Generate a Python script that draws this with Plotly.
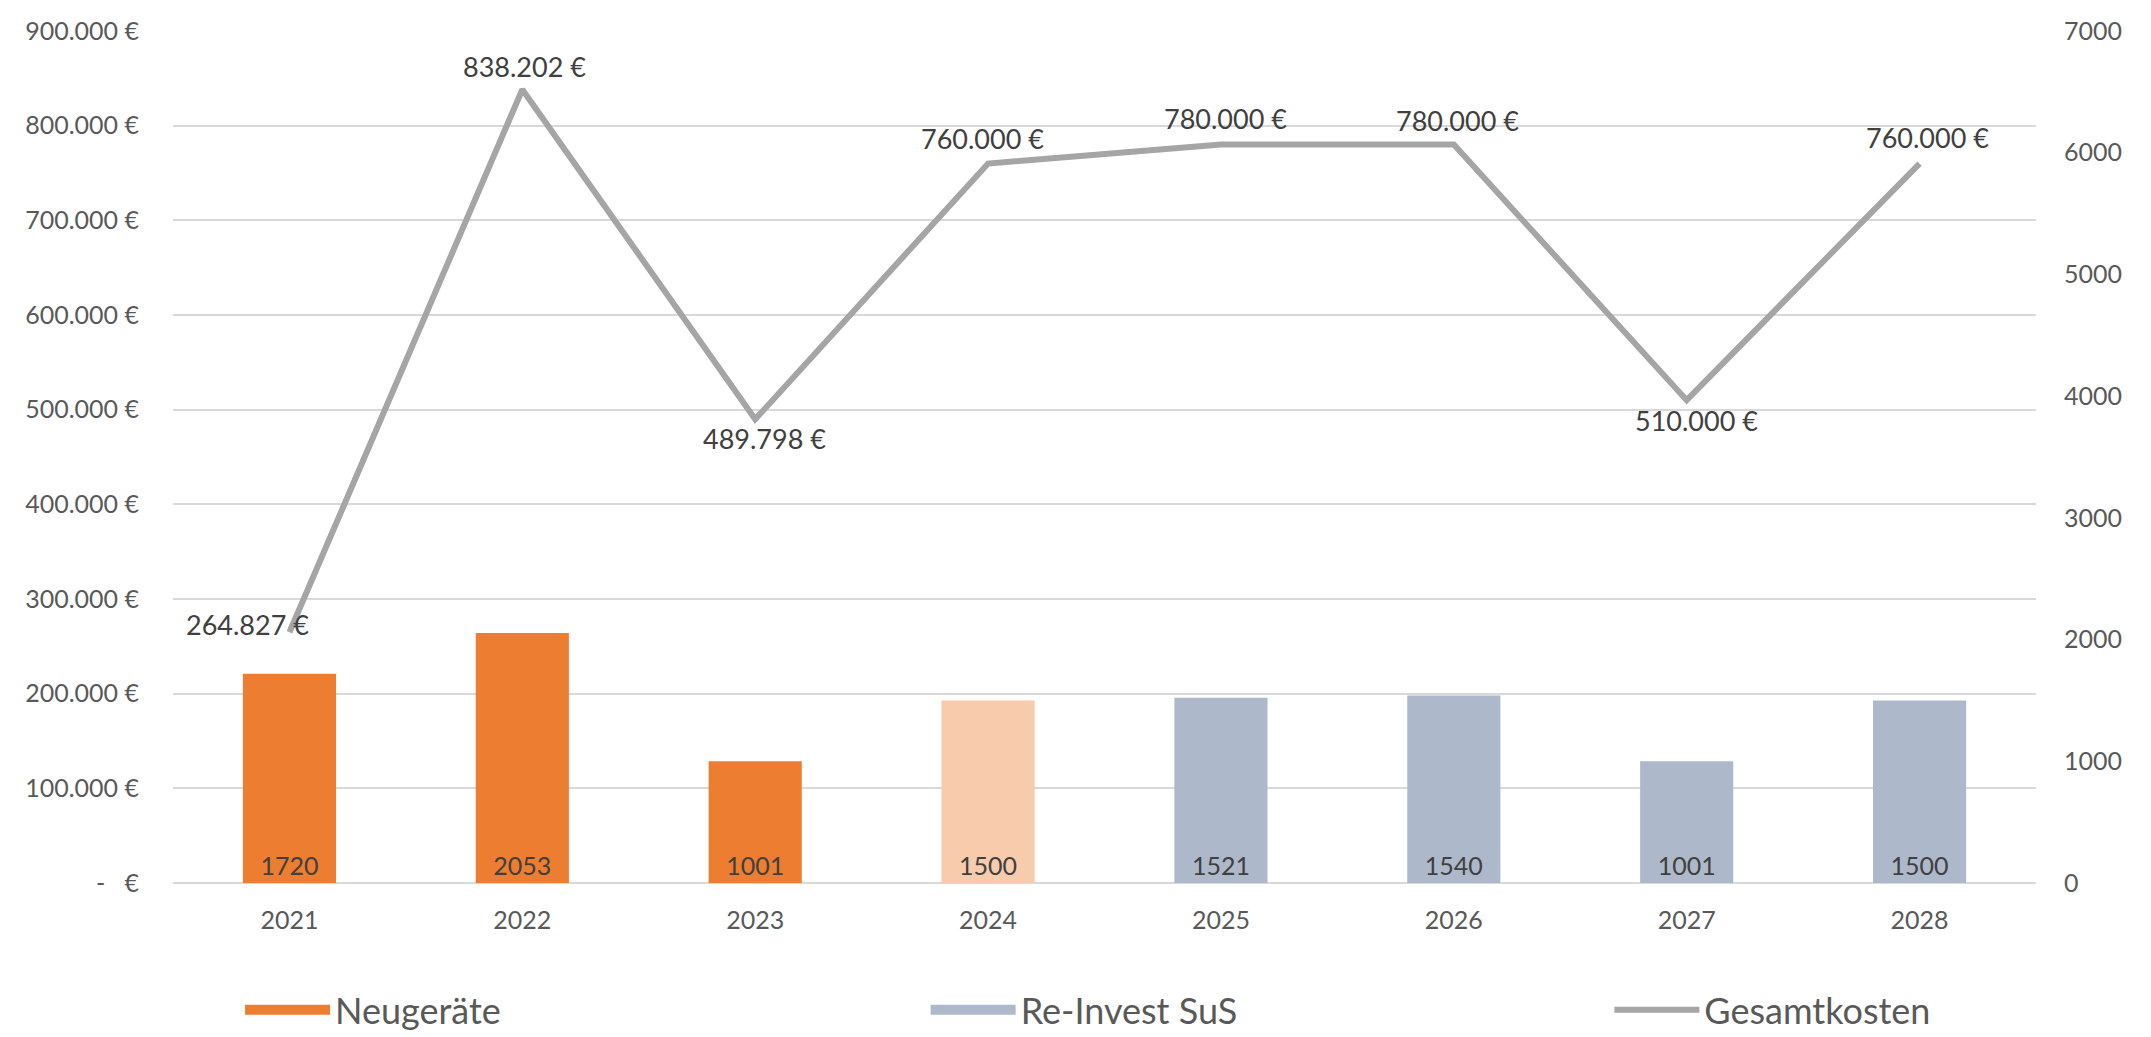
import plotly.graph_objects as go

years = ["2021", "2022", "2023", "2024", "2025", "2026", "2027", "2028"]
neugeraete = [1720, 2053, 1001, 1500, None, None, None, None]
reinvest = [None, None, None, None, 1521, 1540, 1001, 1500]
gesamtkosten = [264827, 838202, 489798, 760000, 780000, 780000, 510000, 760000]
left_ticks = [0, 100000, 200000, 300000, 400000, 500000, 600000, 700000, 800000, 900000]
right_ticks = [0, 1000, 2000, 3000, 4000, 5000, 6000, 7000]

# styles
ORANGE = "#ED7D31"
LIGHT_ORANGE = "#F8CBAD"
BLUEGREY = "#ADB9CA"
GREY = "#A5A5A5"
neu_colors = [ORANGE, ORANGE, ORANGE, LIGHT_ORANGE, ORANGE, ORANGE, ORANGE, ORANGE]
# label offsets (px) relative to each line point: (xshift, yshift)
label_shift = [(-42, 8), (2, 23), (9, -19), (-6, 25), (5, 26), (4, 24), (10, -20), (8, 26)]


def eur(v):
    if v == 0:
        return "-\u00a0\u00a0\u00a0€"
    return f"{v:,.0f}".replace(",", ".") + " €"


FONT = "Lato"
TXT = "#404040"
AX = "#595959"
fig = go.Figure()

fig.add_trace(go.Bar(
    x=years, y=neugeraete, name="Neugeräte", yaxis="y2", showlegend=False,
    marker=dict(color=neu_colors, line=dict(width=0)),
    width=0.4,
    text=[str(v) if v is not None else "" for v in neugeraete],
    textposition="inside", insidetextanchor="start", textangle=0,
    insidetextfont=dict(family=FONT, size=25, color=TXT),
    constraintext="none",
))
fig.add_trace(go.Bar(
    x=years, y=reinvest, name="Re-Invest SuS", yaxis="y2", showlegend=False,
    marker=dict(color=BLUEGREY, line=dict(width=0)),
    width=0.4,
    text=[str(v) if v is not None else "" for v in reinvest],
    textposition="inside", insidetextanchor="start", textangle=0,
    insidetextfont=dict(family=FONT, size=25, color=TXT),
    constraintext="none",
))
fig.add_trace(go.Scatter(
    x=years, y=gesamtkosten, name="Gesamtkosten", yaxis="y",
    mode="lines", legend="legend3",
    line=dict(color=GREY, width=6),
))

# legend entries for the bar series (legend swatches only, no data drawn)
fig.add_trace(go.Scatter(
    x=years[:1], y=[None], name="Neugeräte", mode="lines", legend="legend",
    line=dict(color=ORANGE, width=21), hoverinfo="skip",
))
fig.add_trace(go.Scatter(
    x=years[:1], y=[None], name="Re-Invest SuS", mode="lines", legend="legend2",
    line=dict(color=BLUEGREY, width=21), hoverinfo="skip",
))

# data labels of the line, placed on the category index of each year
for i, (val, (dx, dy)) in enumerate(zip(gesamtkosten, label_shift)):
    fig.add_annotation(
        x=i, y=val, xref="x", yref="y", text=eur(val), showarrow=False,
        xanchor="center", yanchor="middle", xshift=dx, yshift=dy,
        font=dict(family=FONT, size=27, color=TXT),
    )

legend_style = dict(
    orientation="h", yanchor="middle", y=-0.149, xanchor="left",
    font=dict(family=FONT, size=36, color=AX), itemwidth=85,
    bgcolor="rgba(0,0,0,0)",
)

# page body has an 8px default margin: figure is reduced by 8px on each axis
fig.update_layout(
    width=2143, height=1029,
    margin=dict(l=165, r=115, t=23, b=154, autoexpand=False),
    paper_bgcolor="white", plot_bgcolor="white",
    barmode="overlay",
    font=dict(family=FONT, size=25, color=AX),
    xaxis=dict(
        type="category", categoryorder="array", categoryarray=years,
        range=[-0.5, len(years) - 0.5],
        showgrid=False, zeroline=False, showline=False,
        ticks="", tickfont=dict(size=25, color=AX),
        ticklabelstandoff=20, automargin=False,
    ),
    yaxis=dict(
        range=[0, 900000], tickvals=left_ticks, ticktext=[eur(v) for v in left_ticks],
        showgrid=True, gridcolor="#D9D9D9", gridwidth=2,
        zeroline=True, zerolinecolor="#D9D9D9", zerolinewidth=2,
        showline=False, ticks="", tickfont=dict(size=25, color=AX),
        ticklabelstandoff=33, automargin=False,
    ),
    yaxis2=dict(
        range=[0, 7000], tickvals=right_ticks, overlaying="y", side="right",
        showgrid=False, zeroline=False, showline=False, ticks="",
        tickfont=dict(size=25, color=AX),
        ticklabelstandoff=27, automargin=False,
    ),
    legend=dict(x=0.036, **legend_style),
    legend2=dict(x=0.404, **legend_style),
    legend3=dict(x=0.771, **legend_style),
    showlegend=True,
)

fig.write_html("out.html")
